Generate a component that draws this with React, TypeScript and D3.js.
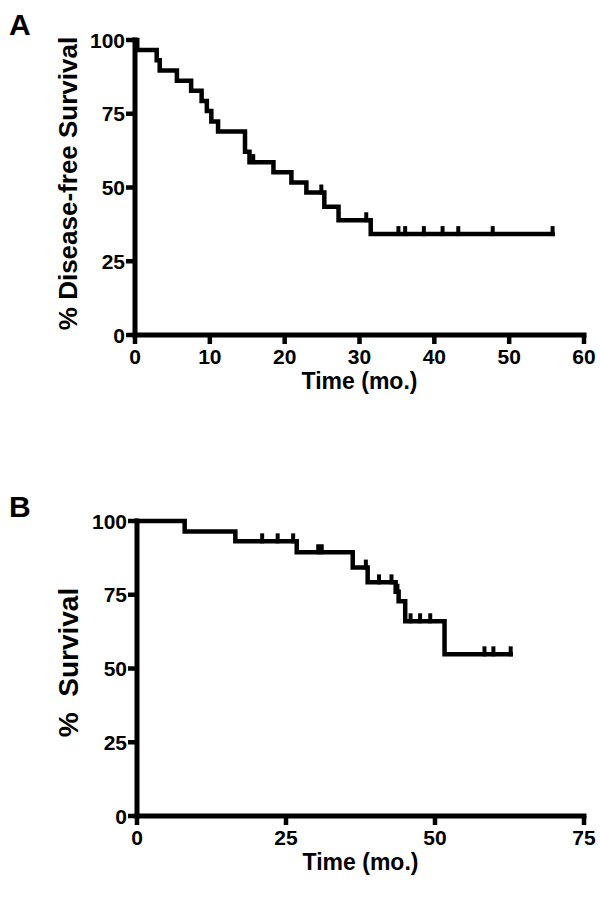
import React from "react";
import * as d3 from "d3";

// Panel A: disease-free survival (step times in months, % surviving after each step)
const dfsTimes = [0, 0.3, 2.9, 3.3, 5.6, 7.5, 8.9, 9.6, 10.2, 11.1, 14.7, 15.3, 18.5, 20.9, 22.9, 25.3, 27.2, 31.5, 55.8];
const dfsSurv = [100, 96.6, 93.1, 89.7, 86.2, 82.8, 79.3, 75.9, 72.4, 69.0, 62.1, 58.6, 55.2, 51.7, 48.3, 43.5, 38.9, 34.2, 34.2];
const dfsCensored = [15.8, 24.9, 30.9, 35.2, 36.1, 38.6, 41.1, 43.2, 47.8, 55.8];
const dfsXTicks = [0, 10, 20, 30, 40, 50, 60];

// Panel B: overall survival
const osTimes = [0, 8.0, 16.5, 26.8, 36.2, 38.7, 43.4, 43.9, 45.0, 51.6, 62.7];
const osSurv = [100, 96.4, 93.1, 89.4, 84.2, 79.2, 76.0, 72.8, 66.0, 54.8, 54.8];
const osCensored = [21.0, 23.6, 26.2, 30.4, 31.0, 38.4, 40.6, 42.7, 43.7, 45.9, 47.5, 49.2, 58.3, 59.8, 62.7];
const osXTicks = [0, 25, 50, 75];

const yTicks = [0, 25, 50, 75, 100];

const FONT = "'Liberation Sans', Arial, Helvetica, sans-serif";

function KMPanel({ letter, times, surv, censored, xTicks, xMax, yLabel, yLabelSize, yLabelShift, left, right, top, bottom, letterY }) {
  const x = d3.scaleLinear().domain([0, xMax]).range([left, right]);
  const y = d3.scaleLinear().domain([0, 100]).range([bottom, top]);

  const pts = times.map((t, i) => [t, surv[i]]);
  const line = d3.line()
    .x(d => x(d[0]))
    .y(d => y(d[1]))
    .curve(d3.curveStepAfter);

  // survival level at a censoring time
  const bis = d3.bisector(d => d).right;
  const levelAt = t => surv[Math.max(0, bis(times, t) - 1)];

  return (
    <g>
      <text x={9} y={letterY} fontFamily={FONT} fontWeight="bold" fontSize={30}>{letter}</text>

      {/* y axis */}
      <line x1={left} x2={left} y1={top - 2.5} y2={bottom + 2.5} stroke="black" strokeWidth={5} />
      {yTicks.map(v => (
        <g key={"y" + v}>
          <line x1={left - 9} x2={left} y1={y(v)} y2={y(v)} stroke="black" strokeWidth={4.5} />
          <text x={left - 10} y={y(v)} dy="0.36em" textAnchor="end" fontFamily={FONT} fontWeight="bold" fontSize={21}>{v}</text>
        </g>
      ))}

      {/* x axis */}
      <line x1={left - 2.5} x2={right + 2.5} y1={bottom} y2={bottom} stroke="black" strokeWidth={5} />
      {xTicks.map(v => (
        <g key={"x" + v}>
          <line x1={x(v)} x2={x(v)} y1={bottom} y2={bottom + 9} stroke="black" strokeWidth={4.5} />
          <text x={x(v)} y={bottom + 21} dy="0.36em" textAnchor="middle" fontFamily={FONT} fontWeight="bold" fontSize={21}>{v}</text>
        </g>
      ))}

      <text x={(left + right) / 2} y={bottom + 46} dy="0.36em" textAnchor="middle" fontFamily={FONT} fontWeight="bold" fontSize={23}>Time (mo.)</text>
      <text
        transform={`translate(68,${(top + bottom) / 2 + yLabelShift}) rotate(-90)`}
        dy="0.36em"
        textAnchor="middle"
        fontFamily={FONT}
        fontWeight="bold"
        fontSize={yLabelSize}
        style={{ whiteSpace: "pre" }}
      >{yLabel}</text>

      {/* KM curve */}
      <path d={line(pts)} fill="none" stroke="black" strokeWidth={4.5} strokeLinejoin="miter" strokeLinecap="square" />
      {censored.map((t, i) => (
        <line key={"c" + i} x1={x(t)} x2={x(t)} y1={y(levelAt(t)) - 8} y2={y(levelAt(t)) + 2} stroke="black" strokeWidth={4} />
      ))}
    </g>
  );
}

export default function App() {
  return (
    <svg width={600} height={898} style={{ position: "absolute", left: 0, top: 0, background: "white" }}>
      <KMPanel
        letter="A" letterY={35}
        times={dfsTimes} surv={dfsSurv} censored={dfsCensored}
        xTicks={dfsXTicks} xMax={60} yLabel="% Disease-free Survival" yLabelSize={26} yLabelShift={-4}
        left={135} right={584} top={40} bottom={335}
      />
      <KMPanel
        letter="B" letterY={517}
        times={osTimes} surv={osSurv} censored={osCensored}
        xTicks={osXTicks} xMax={75} yLabel="%  Survival" yLabelSize={28} yLabelShift={-6}
        left={137} right={584} top={521} bottom={816}
      />
    </svg>
  );
}
